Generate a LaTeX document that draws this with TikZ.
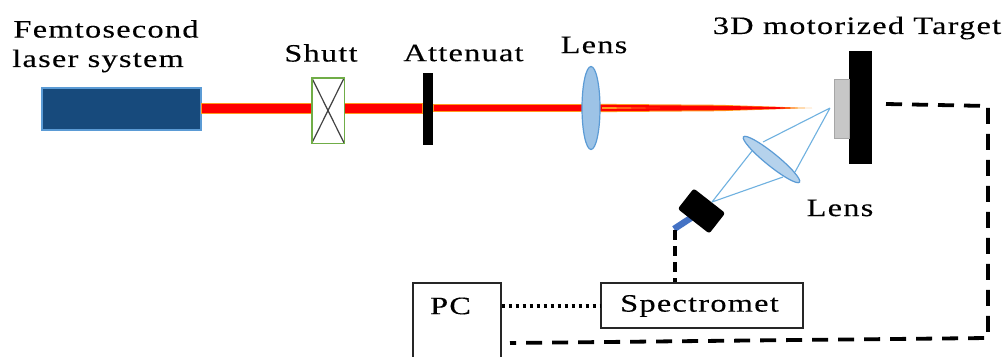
\documentclass[tikz,border=0pt]{standalone}
\usepackage{fontspec}
\setmainfont{Liberation Serif}[LetterSpace=4,FakeBold=0.25]
\usetikzlibrary{shapes.geometric}
\definecolor{laserblue}{HTML}{174A7C}
\definecolor{laseredge}{HTML}{5B9BD5}
\definecolor{lensfill}{HTML}{9DC3E6}
\definecolor{rayblue}{HTML}{6FB1E0}
\definecolor{beamorange}{HTML}{FF9A20}
\definecolor{shutgreen}{HTML}{70AD47}
\definecolor{fibreblue}{HTML}{4472C4}
\tikzset{
  x=1pt,y=-1pt,
  lbl/.style={font=\fontsize{25}{28}\selectfont,text=black,inner sep=0pt,xscale=1.29,transform shape},
  beamseg/.style={draw=beamorange,fill=red,line width=.8pt},
  lens/.style={shape=ellipse,draw=laseredge,fill=lensfill,line width=1.2pt,inner sep=0pt},
  solidbar/.style={fill=black,draw=none,inner sep=0pt},
  outbox/.style={draw=black!85,fill=white,line width=1.3pt,inner sep=0pt},
  ray/.style={draw=rayblue,line width=1.1pt},
  cable/.style={line width=3.8pt,draw=black,dash pattern=on 16pt off 10pt},
  cableshort/.style={line width=3.8pt,draw=black,dash pattern=on 10pt off 6pt},
  dotted link/.style={line width=3.4pt,draw=black,dash pattern=on 3pt off 4pt}
}
\begin{document}
\begin{tikzpicture}
\useasboundingbox[fill=white] (0,0) rectangle (1006,356);
\clip (0,0) rectangle (1006,356);
\node[minimum width=159pt,minimum height=42pt,inner sep=0pt,fill=laserblue,draw=laseredge,line width=1.2pt] (laser) at (121.5,109) {};
\node[inner sep=0pt,minimum width=32pt,minimum height=65pt] (shutter) at (328,110.5) {};
\node[solidbar,minimum width=10pt,minimum height=72pt] (atten) at (428,109) {};
\coordinate (lensc) at (591,108);
\coordinate (focus) at (812,108);
% beam
\path[beamseg] (laser.east |- 0,103) rectangle (shutter.west |- 0,113);
\path[beamseg] (shutter.east |- 0,103) rectangle (atten.west |- 0,113);
\path[beamseg] (atten.east |- 0,104.5) rectangle (lensc |- 0,111.5);
\fill[beamorange] (lensc |- 0,103.8) -- (720,104.8) -- (focus) -- (720,111.2) -- (lensc |- 0,112.2) -- cycle;
\fill[red] (lensc |- 0,104.8) -- (720,105.8) -- (775,107) -- (795,108) -- (775,109) -- (720,110.2) -- (lensc |- 0,111.2) -- cycle;
\fill[beamorange] (602,107) -- (660,108) -- (602,109) -- cycle;
\node[solidbar,minimum width=10pt,minimum height=72pt] at (atten) {};
\node[lens,minimum width=18pt,minimum height=83pt] (lensa) at (lensc) {};
% shutter
\draw[draw=black!75,line width=1.2pt] (shutter.north west) -- (shutter.south east) (shutter.north east) -- (shutter.south west);
\draw[draw=shutgreen,line width=1.4pt] (shutter.north west) rectangle (shutter.south east);
% target
\node[solidbar,minimum width=23pt,minimum height=113pt] (holder) at (860.5,107.5) {};
\node[minimum width=15pt,minimum height=59pt,inner sep=0pt,fill=black!22,draw=black!35,line width=.6pt] (sample) at (841.5,108.5) {};
% collection optics
\coordinate (spot) at (830,108);
\coordinate (det) at (712,202);
\coordinate (la) at (763,142);
\coordinate (lb) at (795,172);
\coordinate (lc) at (752,151);
\coordinate (ld) at (783,177);
\draw[ray] (spot) -- (la) (spot) -- (lb) (det) -- (lc) (det) -- (ld);
\node[lens,fill=lensfill!75,minimum width=72pt,minimum height=12.5pt,rotate=-39] (lensb) at (771.5,159.5) {};
% detector
\coordinate (fibre) at (674,229);
\draw[line width=6.5pt,draw=fibreblue] (701.5,211) -- (fibre);
\node[fill=black,rounded corners=2.5pt,minimum width=40pt,minimum height=26pt,inner sep=0pt,rotate=-38] (detector) at (701.5,211) {};
% boxes
\node[outbox,minimum width=88pt,minimum height=80pt] (pc) at (457,323) {};
\node[outbox,minimum width=202pt,minimum height=45pt] (spec) at (702,305.5) {};
% cables
\coordinate (ta) at (886,104);
\coordinate (tb) at (988,106);
\coordinate (tc) at (988,338);
\coordinate (td) at (510,343);
\draw[cable] (ta) -- (tb) -- (tc) -- (td);
\draw[cableshort] (fibre) ++(1,1) -- (spec.north -| 675,0);
\draw[dotted link] (pc.east |- 0,306) -- (spec.west |- 0,306);
% labels
\node[lbl] (t1) at (106,29) {Femtosecond};
\node[lbl] (t2) at (98,61) {laser system};
\node[lbl] (t3) at (321,53) {Shutt};
\node[lbl] (t4) at (463.5,53) {Attenuat};
\node[lbl] (t5) at (594,45) {Lens};
\node[lbl] (t6) at (857,28) {3D motorized Target};
\node[lbl] (t7) at (840,208) {Lens};
\node[lbl] (t8) at (450.5,306) {PC};
\node[lbl] (t9) at (699.5,306) {Spectromet};
\end{tikzpicture}
\end{document}
